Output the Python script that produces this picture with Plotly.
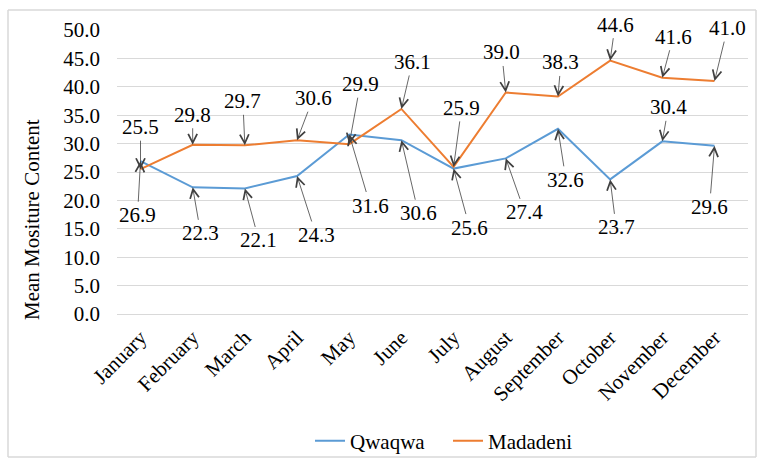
import plotly.graph_objects as go

# Monthly mean moisture content for the two sites
months = ["January", "February", "March", "April", "May", "June", "July",
          "August", "September", "October", "November", "December"]
qwaqwa = [26.9, 22.3, 22.1, 24.3, 31.6, 30.6, 25.6, 27.4, 32.6, 23.7, 30.4, 29.6]
madadeni = [25.5, 29.8, 29.7, 30.6, 29.9, 36.1, 25.9, 39.0, 38.3, 44.6, 41.6, 41.0]

# Callout offsets (pixels) for the value labels
qw_ax = [-3, 8, 14, 19, 21, 17, 16, 19, 8, 6, 6, -5]
qw_ay = [54, 46, 52, 59, 71, 73, 59, 54, 51, 48, -34, 61]
md_ax = [0, 0, -2, 16, 11, 11, 8, -4, 3, 5, 11, 13]
md_ay = [-42, -30, -44, -42, -60, -47, -59, -40, -34, -36, -41, -53]

BLUE = "#5B9BD5"
ORANGE = "#ED7D31"
FONT = "Liberation Serif"
FS = 21

fig = go.Figure()
fig.add_trace(go.Scatter(x=months, y=qwaqwa, mode="lines", name="Qwaqwa",
                         line=dict(color=BLUE, width=2), legend="legend"))
fig.add_trace(go.Scatter(x=months, y=madadeni, mode="lines", name="Madadeni",
                         line=dict(color=ORANGE, width=2), legend="legend2"))

annotations = []
for series, axs, ays in ((madadeni, md_ax, md_ay), (qwaqwa, qw_ax, qw_ay)):
    for m, v, ax, ay in zip(months, series, axs, ays):
        annotations.append(dict(
            x=m, y=v, xref="x", yref="y", text=f"{v:.1f}",
            showarrow=True, ax=ax, ay=ay, arrowhead=5, arrowsize=2.2,
            arrowwidth=0.8, arrowcolor="#404040", standoff=0, startstandoff=0,
            font=dict(family=FONT, size=FS, color="#000000")))

W, H = 761, 459
L, R, T, B = 117, 13, 30, 145
pw, ph = W - L - R, H - T - B


def px_x(p):
    return (p - L) / pw


def px_y(p):
    return (H - B - p) / ph


annotations.append(dict(
    x=px_x(32), y=px_y(220), xref="paper", yref="paper",
    xanchor="center", yanchor="middle",
    text="Mean Mositure Content", showarrow=False, textangle=-90,
    font=dict(family=FONT, size=FS, color="#000000")))


def legend_box(left_px):
    return dict(orientation="h", xref="container", yref="container",
                x=left_px / W, y=1 - 441 / H,
                xanchor="left", yanchor="middle",
                font=dict(family=FONT, size=FS, color="#000000"),
                bgcolor="rgba(0,0,0,0)", borderwidth=0)


# Light frame around the whole chart
frame = [
    dict(type="line", xref="paper", yref="paper", layer="below",
         x0=px_x(a), x1=px_x(b), y0=px_y(c), y1=px_y(d),
         line=dict(color="#D9D9D9", width=1.5))
    for a, b, c, d in ((8, 756, 10, 10), (8, 756, 457, 457),
                       (8, 8, 10, 457), (756, 756, 10, 457))
]

fig.update_layout(
    width=W, height=H,
    margin=dict(l=L, r=R, t=T, b=B),
    paper_bgcolor="white", plot_bgcolor="white",
    font=dict(family=FONT, size=FS, color="#000000"),
    showlegend=True,
    legend=legend_box(310),
    legend2=legend_box(448),
    annotations=annotations,
    shapes=frame,
)
fig.update_xaxes(type="category", tickangle=-45, showgrid=False,
                 showline=True, linecolor="#D9D9D9",
                 ticks="outside", ticklen=2, tickcolor="rgba(0,0,0,0)",
                 automargin=False,
                 tickfont=dict(family=FONT, size=FS, color="#000000"))
fig.update_yaxes(range=[0, 50], dtick=5, tickformat=".1f",
                 showgrid=True, gridcolor="#D9D9D9", gridwidth=1,
                 zeroline=False, showline=False, ticks="",
                 automargin=False, ticklabelstandoff=16,
                 tickfont=dict(family=FONT, size=FS, color="#000000"))

fig.write_html("out.html")
